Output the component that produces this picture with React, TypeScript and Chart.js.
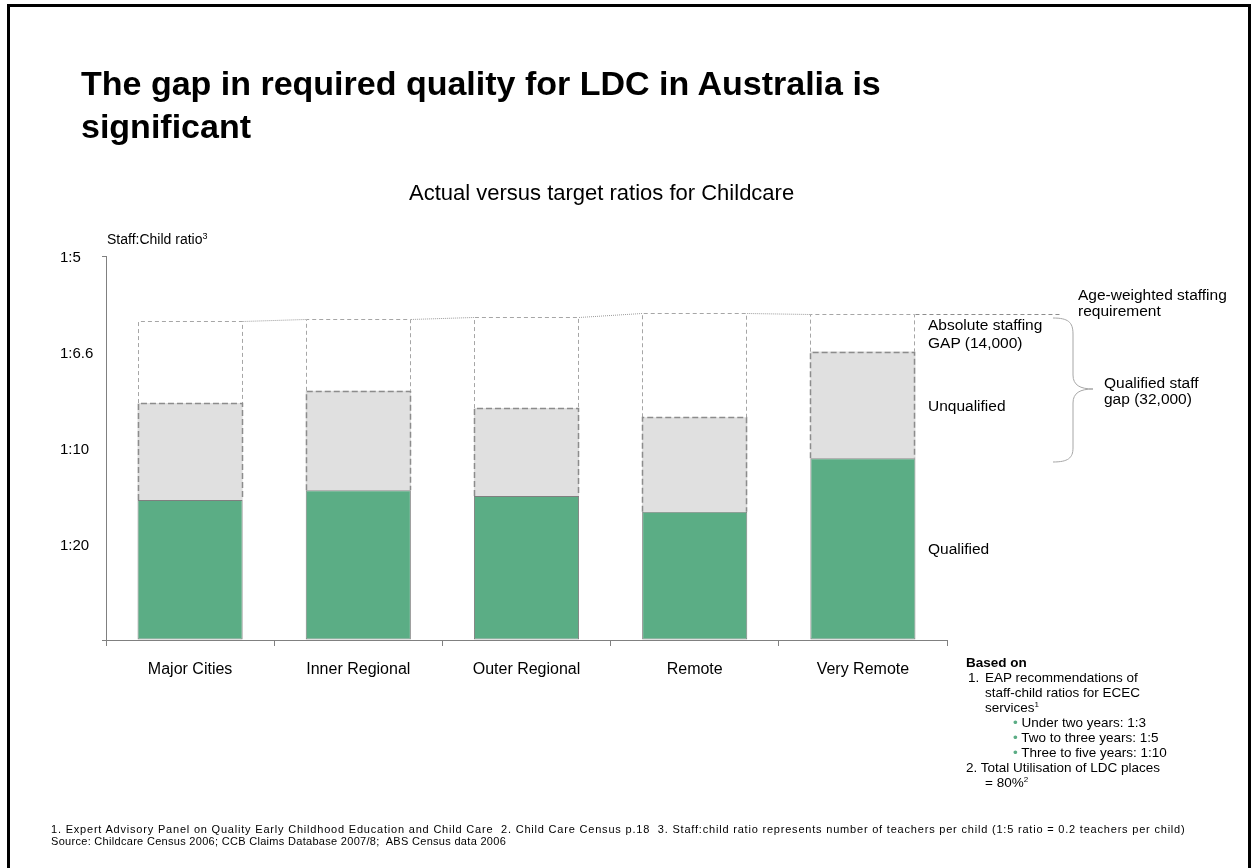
import React, { useEffect, useRef } from 'react';
import { Chart, registerables } from 'chart.js';

Chart.register(...registerables);

// Categories (area remoteness)
const categories = ['Major Cities', 'Inner Regional', 'Outer Regional', 'Remote', 'Very Remote'];
// Teachers per child (1:5 ratio = 0.2 teachers per child)
const qualifiedRatio = [0.0729, 0.078, 0.075, 0.0668, 0.0946];
const actualRatio = [0.1234, 0.1298, 0.1208, 0.116, 0.1502];
const requiredRatio = [0.1661, 0.1672, 0.168, 0.1701, 0.1698];
// Y axis tick labels (0, 0.05, 0.10, 0.15, 0.20)
const yTickLabels = ['', '1:20', '1:10', '1:6.6', '1:5'];

const unqualifiedRatio = actualRatio.map((v, i) => v - qualifiedRatio[i]);
const gapRatio = requiredRatio.map((v, i) => v - actualRatio[i]);

const FONT = '"Liberation Sans", Arial, sans-serif';

const outlinePlugin = {
  id: 'outlines',
  afterDatasetsDraw(chart: any) {
    const ctx = chart.ctx;
    const grey = chart.getDatasetMeta(1).data;
    const gap = chart.getDatasetMeta(2).data;
    const props = (el: any) => el.getProps(['x', 'y', 'base', 'width'], true);
    ctx.save();
    const drawOpen = (el: any, dash: number[], lw: number, color: string) => {
      const p = props(el);
      const l = Math.round(p.x - p.width / 2) + 0.5;
      const r = Math.round(p.x + p.width / 2) - 0.5;
      const t = Math.round(p.y) + 0.5;
      ctx.beginPath();
      ctx.setLineDash(dash);
      ctx.lineWidth = lw;
      ctx.strokeStyle = color;
      ctx.moveTo(l, p.base);
      ctx.lineTo(l, t);
      ctx.lineTo(r, t);
      ctx.lineTo(r, p.base);
      ctx.stroke();
    };
    gap.forEach((el: any) => drawOpen(el, [4, 3], 1, '#a6a6a6'));
    grey.forEach((el: any) => drawOpen(el, [6, 3], 1.5, '#8c8c8c'));
    // dotted connectors between requirement tops
    ctx.setLineDash([1, 1]);
    ctx.lineWidth = 1;
    ctx.strokeStyle = '#9a9a9a';
    for (let i = 0; i < gap.length - 1; i++) {
      const a = props(gap[i]);
      const b = props(gap[i + 1]);
      ctx.beginPath();
      ctx.moveTo(a.x + a.width / 2, Math.round(a.y) + 0.5);
      ctx.lineTo(b.x - b.width / 2, Math.round(b.y) + 0.5);
      ctx.stroke();
    }
    // requirement extension to the annotation
    const last = props(gap[gap.length - 1]);
    ctx.setLineDash([4, 3]);
    ctx.strokeStyle = '#8c8c8c';
    ctx.beginPath();
    ctx.moveTo(last.x + last.width / 2, Math.round(last.y) + 0.5);
    ctx.lineTo(chart.chartArea.right + 115, Math.round(last.y) + 0.5);
    ctx.stroke();
    ctx.restore();
  },
};

// cy = vertical centre of the first line
const txt = (left: number, cy: number, size: number, lh: number, extra: any = {}) => ({
  position: 'absolute' as const,
  left,
  top: cy - lh / 2,
  fontSize: size,
  lineHeight: lh + 'px',
  whiteSpace: 'pre' as const,
  ...extra,
});

const supStyle = { fontSize: 8, verticalAlign: 5, lineHeight: 0 };

export default function App() {
  const ref = useRef<HTMLCanvasElement>(null);

  useEffect(() => {
    if (!ref.current) return;
    const chart = new Chart(ref.current, {
      type: 'bar',
      data: {
        labels: categories,
        datasets: [
          {
            label: 'Qualified',
            data: qualifiedRatio,
            backgroundColor: '#5bad85',
            borderColor: '#7f7f7f',
            borderWidth: 1,
            borderSkipped: false,
          },
          {
            label: 'Unqualified',
            data: unqualifiedRatio,
            backgroundColor: '#e0e0e0',
            borderWidth: 0,
          },
          {
            label: 'Absolute staffing GAP',
            data: gapRatio,
            backgroundColor: '#ffffff',
            borderWidth: 0,
          },
        ],
      },
      options: {
        responsive: false,
        animation: false,
        devicePixelRatio: 1,
        datasets: { bar: { barPercentage: 0.625, categoryPercentage: 1 } },
        layout: { padding: { left: 60, top: 256, right: 305, bottom: 0 } },
        plugins: {
          legend: { display: false },
          tooltip: { enabled: false },
          title: { display: false },
        },
        scales: {
          x: {
            stacked: true,
            grid: {
              display: true,
              drawOnChartArea: false,
              offset: true,
              tickLength: 6,
              color: '#808080',
              tickColor: '#808080',
            },
            border: { color: '#808080', width: 1 },
            ticks: {
              color: '#000',
              font: { family: FONT, size: 16 },
              padding: 14,
              maxRotation: 0,
              autoSkip: false,
            },
            afterFit: (s: any) => {
              s.height = 228;
              s.paddingLeft = 0;
              s.paddingRight = 0;
            },
          },
          y: {
            stacked: true,
            min: 0,
            max: 0.2,
            ticks: {
              stepSize: 0.05,
              callback: (_v: any, i: number) => yTickLabels[i],
              crossAlign: 'far',
              labelOffset: 2,
              color: '#000',
              font: { family: FONT, size: 15 },
            },
            grid: {
              display: true,
              drawOnChartArea: false,
              tickLength: 4,
              tickColor: (c: any) =>
                c.index === 0 || c.index === yTickLabels.length - 1 ? '#808080' : 'rgba(0,0,0,0)',
            },
            border: { color: '#808080', width: 1 },
            afterFit: (s: any) => {
              s.width = 46;
              s.paddingTop = 0;
              s.paddingBottom = 0;
            },
          },
        },
      },
      plugins: [outlinePlugin],
    } as any);
    return () => chart.destroy();
  }, []);

  const green = { color: '#5bad85' };

  return (
    <div
      style={{
        position: 'absolute',
        left: 0,
        top: 0,
        width: 1252,
        height: 868,
        overflow: 'hidden',
        background: '#fff',
        fontFamily: FONT,
        color: '#000',
      }}
    >
      <canvas ref={ref} width={1252} height={868} style={{ position: 'absolute', left: 0, top: 0 }} />
      <div
        style={{
          position: 'absolute',
          left: 7,
          top: 4,
          width: 1244,
          height: 900,
          border: '3px solid #000',
          boxSizing: 'border-box',
        }}
      />
      <div style={{ position: 'absolute', left: 81, top: 62, fontSize: 34, fontWeight: 'bold', lineHeight: '43px' }}>
        The gap in required quality for LDC in Australia is
        <br />
        significant
      </div>
      <div style={txt(409, 193, 22, 24)}>Actual versus target ratios for Childcare</div>
      <div style={txt(107, 239, 14, 16)}>
        Staff:Child ratio<sup style={{ fontSize: 9, verticalAlign: 5, lineHeight: 0 }}>3</sup>
      </div>

      <div style={txt(1078, 295, 15.5, 16)}>{'Age-weighted staffing\nrequirement'}</div>
      <div style={txt(928, 325, 15.5, 18)}>{'Absolute staffing\nGAP (14,000)'}</div>
      <div style={txt(928, 406, 15.5, 18)}>Unqualified</div>
      <div style={txt(928, 549, 15.5, 18)}>Qualified</div>
      <div style={txt(1104, 383, 15.5, 16)}>{'Qualified staff\ngap (32,000)'}</div>

      <svg
        width={60}
        height={160}
        style={{ position: 'absolute', left: 1048, top: 310 }}
        viewBox="1048 310 60 160"
      >
        <path
          d="M1053 318 C1068 318 1073 322 1073 334 L1073 375 C1073 385 1080 389 1093 389 C1080 389 1073 393 1073 403 L1073 448 C1073 458 1068 462 1053 462"
          fill="none"
          stroke="#a6a6a6"
          strokeWidth={1}
        />
      </svg>

      <div style={{ position: 'absolute', left: 966, top: 655, fontSize: 13.5, lineHeight: '15px' }}>
        <div style={{ fontWeight: 'bold' }}>Based on</div>
        <div style={{ position: 'relative', paddingLeft: 19 }}>
          <span style={{ position: 'absolute', left: 2 }}>1.</span>
          EAP recommendations of
          <br />
          staff-child ratios for ECEC
          <br />
          services<sup style={supStyle}>1</sup>
        </div>
        <div style={{ paddingLeft: 47 }}>
          <span style={green}>•</span> Under two years: 1:3
          <br />
          <span style={green}>•</span> Two to three years: 1:5
          <br />
          <span style={green}>•</span> Three to five years: 1:10
        </div>
        <div>2. Total Utilisation of LDC places</div>
        <div style={{ paddingLeft: 19 }}>
          = 80%<sup style={supStyle}>2</sup>
        </div>
      </div>

      <div style={txt(51, 829, 11, 12, { letterSpacing: 0.8 })}>
        {
          '1. Expert Advisory Panel on Quality Early Childhood Education and Child Care  2. Child Care Census p.18  3. Staff:child ratio represents number of teachers per child (1:5 ratio = 0.2 teachers per child)'
        }
      </div>
      <div style={txt(51, 841, 11, 12, { letterSpacing: 0.3 })}>
        {'Source: Childcare Census 2006; CCB Claims Database 2007/8;  ABS Census data 2006'}
      </div>
    </div>
  );
}
